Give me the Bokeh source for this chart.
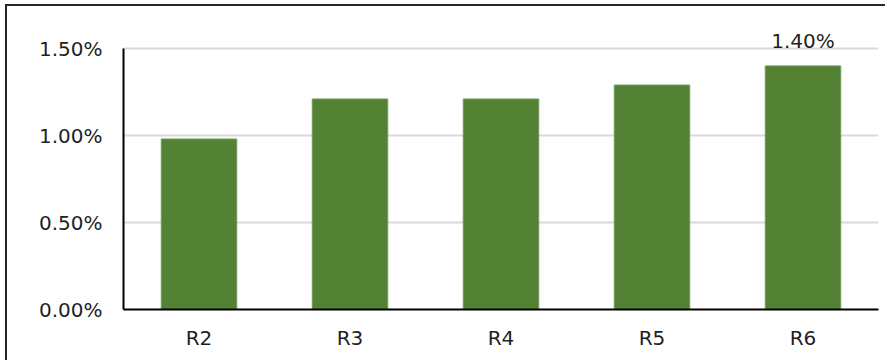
from bokeh.plotting import figure
from bokeh.models import Range1d, NumeralTickFormatter, FixedTicker, ColumnDataSource, LabelSet, InlineStyleSheet
from bokeh.core.properties import value
from bokeh.embed import file_html
from bokeh.resources import INLINE

categories = ["R2", "R3", "R4", "R5", "R6"]
values = [0.0098, 0.0121, 0.0121, 0.0129, 0.0140]
data_labels = ["", "", "", "", "1.40%"]
y_ticks = [0.0, 0.005, 0.010, 0.015]
y_max = 0.015

FONT = "DejaVu Sans"
FSIZE = "20px"
TXT = "#1f1f1f"

src = ColumnDataSource(dict(cat=categories, val=values, lab=data_labels))

p = figure(
    x_range=categories,
    y_range=Range1d(0, 0.01661),
    width=885, height=360,
    output_backend="svg", toolbar_location=None,
    min_border_left=123, min_border_right=7,
    min_border_top=20, min_border_bottom=51,
)
css = (":host::after { content: ''; position: absolute; left: 5px; top: 4px;"
       " width: calc(100% - 5px); height: calc(100% - 4px); box-sizing: border-box;"
       " border-left: 2px solid #262626; border-top: 2px solid #262626;"
       " pointer-events: none; z-index: 100; }")
p.stylesheets = [InlineStyleSheet(css=css)]
p.outline_line_color = None
p.background_fill_color = "white"
p.border_fill_color = "white"

p.vbar(x="cat", top="val", width=0.5, source=src,
       fill_color="#548235", line_color="#6f9a55", line_width=1)

labels = LabelSet(x="cat", y="val", text="lab", source=src,
                  text_align="center", text_baseline="alphabetic", y_offset=18,
                  text_font=value(FONT), text_font_size=FSIZE, text_color=TXT)
p.add_layout(labels)

p.xgrid.grid_line_color = None
p.ygrid.grid_line_color = "#d9d9d9"
p.ygrid.grid_line_width = 2
p.ygrid.ticker = FixedTicker(ticks=y_ticks)

p.yaxis.ticker = FixedTicker(ticks=y_ticks)
p.yaxis.bounds = (0, y_max)
p.yaxis.formatter = NumeralTickFormatter(format="0.00%")
for ax in (p.xaxis[0], p.yaxis[0]):
    ax.axis_line_color = "#000000"
    ax.axis_line_width = 2
    ax.major_tick_line_color = None
    ax.minor_tick_line_color = None
    ax.major_tick_out = 0
    ax.major_tick_in = 0
    ax.major_label_text_font = FONT
    ax.major_label_text_font_size = FSIZE
    ax.major_label_text_color = TXT
p.yaxis.major_label_standoff = 21
p.xaxis.major_label_standoff = 16

open("out.html", "w").write(file_html(p, INLINE))
